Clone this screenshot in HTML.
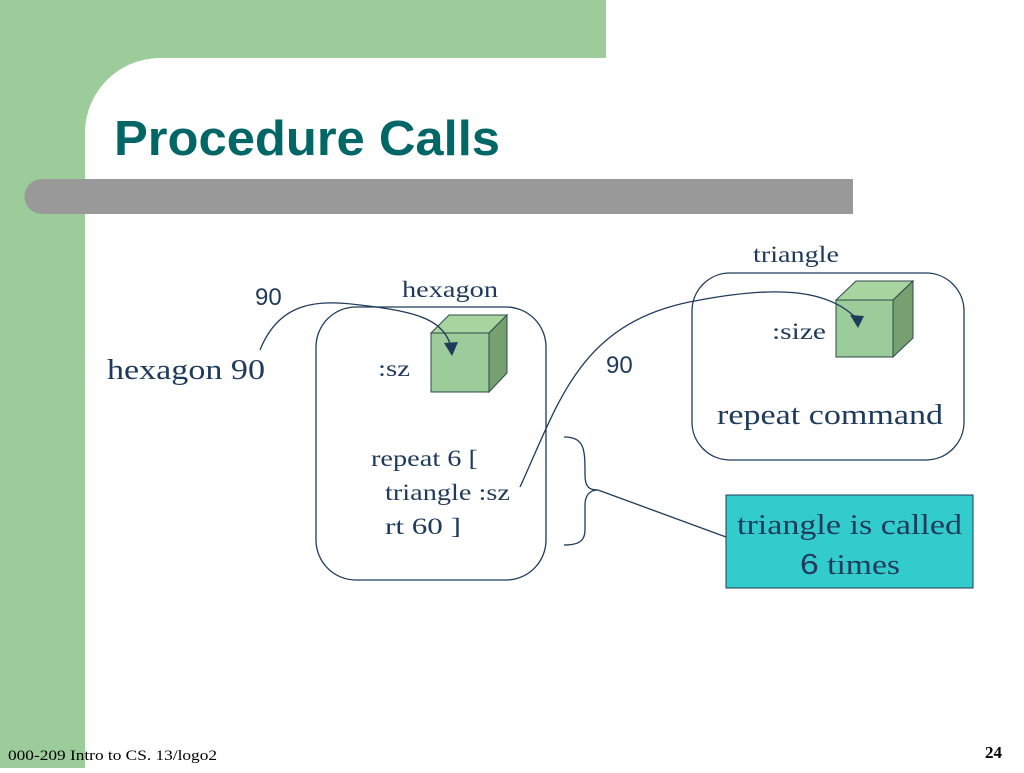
<!DOCTYPE html>
<html><head><meta charset="utf-8"><style>
body{margin:0;width:1024px;height:768px;overflow:hidden;background:#fff}
</style></head><body>
<svg width="1024" height="768" viewBox="0 0 1024 768" xmlns="http://www.w3.org/2000/svg" font-family="Liberation Serif, serif">
<rect x="0" y="0" width="85" height="768" fill="#9bcc99"/>
<rect x="0" y="0" width="606" height="58" fill="#9bcc99"/>
<path d="M85 58 H160 A75 75 0 0 0 85 133 Z" fill="#9bcc99"/>
<text x="114" y="155" font-family="Liberation Sans, sans-serif" font-weight="bold" font-size="49" fill="#006666" textLength="386" lengthAdjust="spacingAndGlyphs">Procedure Calls</text>
<path d="M42 179 H853 V214 H42 A17.5 17.5 0 0 1 42 179 Z" fill="#999999"/>
<g fill="none" stroke="#1f3a5a" stroke-width="1.3">
<rect x="316" y="307" width="230" height="273" rx="40"/>
<rect x="692" y="273" width="272" height="187" rx="38"/>
</g>
<g stroke="#2d4a4a" stroke-width="1">
<polygon points="431,333 449,315 507,315 489,333" fill="#a8d4a0"/>
<polygon points="489,333 507,315 507,373 489,392" fill="#76a070"/>
<rect x="431" y="333" width="58" height="59" fill="#9bcc99"/>
<polygon points="836,300 856,281 913,281 893,300" fill="#a8d4a0"/>
<polygon points="893,300 913,281 913,338 893,357" fill="#76a070"/>
<rect x="836" y="300" width="57" height="57" fill="#9bcc99"/>
</g>
<g fill="none" stroke="#1f3a5a" stroke-width="1.3">
<path d="M260 350 C280 300 320 300 360 305 C420 312 445 320 452 350"/>
<path d="M520 487 C560 400 580 320 700 300 C780 285 830 290 858 320"/>
<path d="M564 437 C585 437 585 450 585 475 C585 488 590 490 598 490 C590 490 585 495 585 505 V530 C585 540 580 545 564 545"/>
<path d="M598 490 L726 537"/>
</g>
<polygon points="444,343 458,342 452,356" fill="#1f3a5a"/>
<polygon points="850,315 864,316 858,328" fill="#1f3a5a"/>
<rect x="726" y="495" width="247" height="93" fill="#33cccc" stroke="#1f3a5a" stroke-width="1"/>
<g fill="#1f3a5a">
<text x="107" y="379" font-size="29" textLength="158" lengthAdjust="spacingAndGlyphs">hexagon 90</text>
<text x="255" y="305" font-family="Liberation Sans, sans-serif" font-size="24">90</text>
<text x="402" y="297" font-size="23" textLength="96" lengthAdjust="spacingAndGlyphs">hexagon</text>
<text x="378" y="376" font-size="23" textLength="32" lengthAdjust="spacingAndGlyphs">:sz</text>
<text x="371" y="466" font-size="23" textLength="107" lengthAdjust="spacingAndGlyphs">repeat 6 [</text>
<text x="385" y="500" font-size="23" textLength="125" lengthAdjust="spacingAndGlyphs">triangle :sz</text>
<text x="385" y="534" font-size="23" textLength="76" lengthAdjust="spacingAndGlyphs">rt 60  ]</text>
<text x="606" y="373" font-family="Liberation Sans, sans-serif" font-size="24">90</text>
<text x="753" y="262" font-size="23" textLength="86" lengthAdjust="spacingAndGlyphs">triangle</text>
<text x="772" y="339" font-size="23" textLength="54" lengthAdjust="spacingAndGlyphs">:size</text>
<text x="717" y="424" font-size="29" textLength="226" lengthAdjust="spacingAndGlyphs">repeat command</text>
<text x="737" y="534" font-size="29" textLength="225" lengthAdjust="spacingAndGlyphs">triangle is called</text>
<text x="800" y="574" font-size="29" textLength="100" lengthAdjust="spacingAndGlyphs"><tspan font-family="Liberation Sans, sans-serif">6</tspan> times</text>
</g>
<text x="8" y="760" font-size="15" fill="#000" textLength="209" lengthAdjust="spacingAndGlyphs">000-209 Intro to CS. 13/logo2</text>
<text x="1002" y="758" font-size="17" font-weight="bold" fill="#000" text-anchor="end">24</text>
</svg>
</body></html>
